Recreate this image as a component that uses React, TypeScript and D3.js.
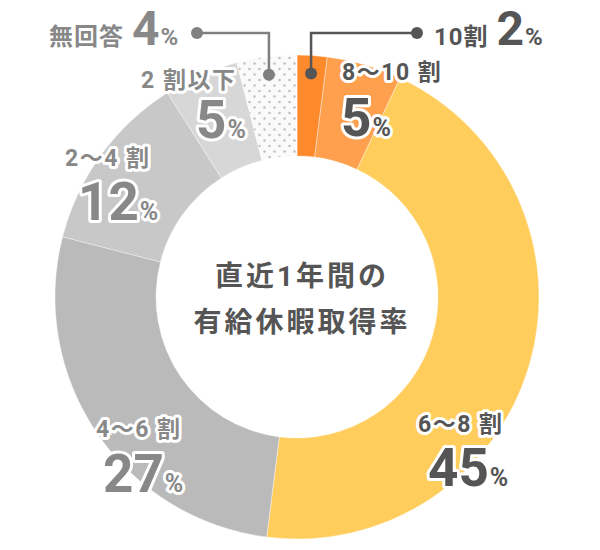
import * as d3 from "d3";

const categories = ["10割", "8〜10 割", "6〜8 割", "4〜6 割", "2〜4 割", "2 割以下", "無回答"];
const values = [2, 5, 45, 27, 12, 5, 4];
const colors = ["#ff8a2c", "#ffa04f", "#ffcd5b", "#bababa", "#c8c8c8", "#d7d7d7", "url(#dots)"];
const centerLines = ["直近1年間の", "有給休暇取得率"];

// label placement (not data)
const layout = [
  { x: 434, y: 45, inline: true, dark: true, lead: 417 },
  { x: 342, y: 80, vx: 341, vy: 136, dark: true },
  { x: 418, y: 432, vx: 428, vy: 486, dark: true },
  { x: 96, y: 437, vx: 103, vy: 492 },
  { x: 65, y: 166, vx: 78, vy: 220 },
  { x: 141, y: 88, vx: 196, vy: 138 },
  { x: 49, y: 45, inline: true, lead: 197 },
];

const W = 600;
const H = 550;
const cx = 297;
const cy = 297;
const rOuter = 242;
const rInner = 141;
const font = "Roboto, 'Noto Sans CJK JP', sans-serif";

export default function App() {
  const pie = d3
    .pie<number>()
    .sort(null)
    .value((d) => d)
    .startAngle(0)
    .endAngle(Math.PI * 2);
  const arcs = pie(values);
  const arc = d3.arc<d3.PieArcDatum<number>>().innerRadius(rInner).outerRadius(rOuter);

  const outline = {
    stroke: "#fff",
    strokeWidth: 6,
    strokeLinejoin: "round" as const,
    paintOrder: "stroke",
  };

  return (
    <svg
      width={W}
      height={H}
      style={{ position: "absolute", left: 0, top: 0, background: "#fff" }}
      fontFamily={font}
    >
      <defs>
        <pattern id="dots" width={10} height={11} patternUnits="userSpaceOnUse">
          <rect width={10} height={11} fill="#fafafa" />
          <circle cx={2.5} cy={3} r={1.3} fill="#c2c2c2" />
          <circle cx={7.5} cy={8.5} r={1.3} fill="#c2c2c2" />
        </pattern>
      </defs>
      <g transform={`translate(${cx},${cy})`}>
        {arcs.map((a, i) => (
          <path
            key={i}
            d={arc(a) ?? ""}
            fill={colors[i]}
            stroke="#fff"
            strokeOpacity={0.45}
            strokeWidth={0.8}
          />
        ))}
      </g>

      {/* leader lines for small slices */}
      {arcs.map((a, i) => {
        const l = layout[i];
        if (!l.lead) return null;
        const mid = (a.startAngle + a.endAngle) / 2;
        const px = cx + 224 * Math.sin(mid);
        const py = cy - 224 * Math.cos(mid);
        const ly = 33;
        const c = l.dark ? "#555" : "#808080";
        return (
          <g key={"lead" + i}>
            <polyline
              points={`${px},${py} ${px},${ly} ${l.lead},${ly}`}
              fill="none"
              stroke={c}
              strokeWidth={2.5}
            />
            <circle cx={px} cy={py} r={6} fill={c} />
            <circle cx={l.lead} cy={ly} r={6} fill={c} />
          </g>
        );
      })}

      {/* labels */}
      {categories.map((name, i) => {
        const l = layout[i];
        const c = l.dark ? "#555" : "#888";
        if (l.inline) {
          return (
            <text key={"lab" + i} x={l.x} y={l.y} fill={c} fontWeight={700} {...outline}>
              <tspan fontSize={24} letterSpacing={1}>{name}</tspan>
              <tspan fontSize={48} dx={8}>
                {values[i]}
              </tspan>
              <tspan fontSize={24} dx={1}>
                %
              </tspan>
            </text>
          );
        }
        return (
          <g key={"lab" + i}>
            <text
              x={l.x}
              y={l.y}
              fill={c}
              fontSize={23}
              fontWeight={700}
              letterSpacing={1.5}
              {...outline}
            >
              {name}
            </text>
            <text x={l.vx} y={l.vy} fill={c} fontWeight={700} {...outline}>
              <tspan fontSize={53}>{values[i]}</tspan>
              <tspan fontSize={25} dx={1}>
                %
              </tspan>
            </text>
          </g>
        );
      })}

      {/* center title */}
      {centerLines.map((t, i) => (
        <text
          key={"c" + i}
          x={cx + 5}
          y={286 + i * 46}
          textAnchor="middle"
          fontSize={28}
          fontWeight={700}
          letterSpacing={3}
          fill="#555"
        >
          {t}
        </text>
      ))}
    </svg>
  );
}
